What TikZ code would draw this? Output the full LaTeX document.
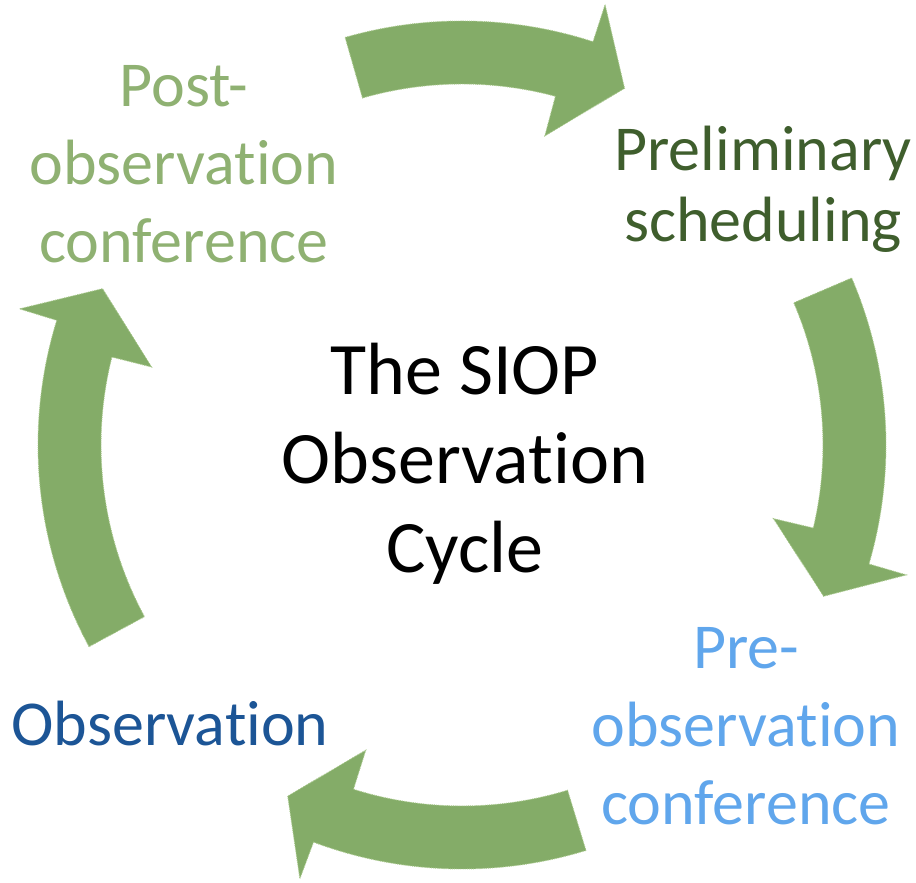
\documentclass[tikz,border=0pt]{standalone}
\usepackage{fontspec}
\setmainfont{Carlito}[Ligatures=NoCommon]
\usepackage{xcolor}
\usepackage{tikz}

\definecolor{arrowgreen}{RGB}{132,172,104}
\definecolor{arrowedge}{RGB}{168,200,140}
\definecolor{postgreen}{RGB}{143,177,114}
\definecolor{prelimgreen}{RGB}{63,94,45}
\definecolor{preblue}{RGB}{96,166,236}
\definecolor{obsblue}{RGB}{28,85,150}

\newcommand{\cyclearrow}[3]{%
\fill[arrowgreen] (#1:424pt) arc[start angle=#1, end angle=#2-1.5, radius=424pt]
  -- (#2-1.5:463pt) -- (#3:392pt) -- (#2+1.5:320pt) -- (#2+1.5:361pt)
  arc[start angle=#2+1.5, end angle=#1, radius=361pt] -- cycle;
\draw[arrowedge,densely dotted,line width=0.9pt] (#1:424pt) arc[start angle=#1, end angle=#2-1.5, radius=424pt]
  -- (#2-1.5:463pt) -- (#3:392pt) -- (#2+1.5:320pt) -- (#2+1.5:361pt)
  arc[start angle=#2+1.5, end angle=#1, radius=361pt] -- cycle;}

\begin{document}
\begin{tikzpicture}[x=1pt,y=1pt]
\tikzstyle{every node}=[align=center,inner sep=0pt,anchor=north];
\tikzstyle{label}=[font=\fontsize{64}{78}\selectfont];
\useasboundingbox (0,0) rectangle (916,883);
\begin{scope}[shift={(462,438)}]
\cyclearrow{106}{73.5}{65.5}
\cyclearrow{23.2}{-14.8}{-22.7}
\cyclearrow{-73}{-109}{-116.4}
\cyclearrow{208.4}{164.4}{156.5}
\end{scope}
\path (465,540) node[font=\fontsize{74}{89}\selectfont] (siop) {The SIOP\\Observation\\Cycle};
\path (184,818) node[label,text=postgreen] (post) {Post-\\observation\\conference};
\path (763,757) node[label,text=prelimgreen,font=\fontsize{64}{71}\selectfont] (prelim) {Preliminary\\scheduling};
\path (746,256) node[label,text=preblue] (pre) {Pre-\\observation\\conference};
\path (170,182) node[label,text=obsblue] (obs) {Observation};
\end{tikzpicture}
\end{document}
